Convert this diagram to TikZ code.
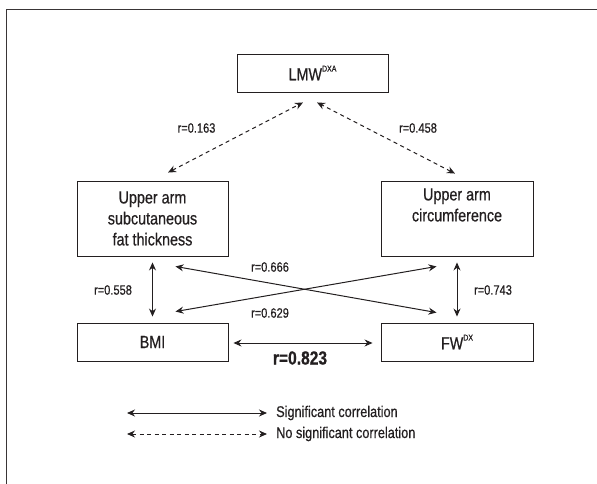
\documentclass[tikz,border=0pt]{standalone}
\usepackage{fontspec}
\setmainfont[FakeStretch=0.82,FakeBold=0.6]{Liberation Sans}
\usetikzlibrary{calc,arrows.meta}
\definecolor{ink}{HTML}{231F20}
\tikzset{
  box/.style={draw=ink, line width=0.9pt, align=center, inner sep=0pt, font=\fontsize{17.5}{21}\selectfont, text=ink},
  lbl/.style={font=\fontsize{13.5}{15}\selectfont, text=ink, inner sep=0pt},
  sig/.style={draw=ink, line width=1pt, {Stealth[length=8pt,width=7pt]}-{Stealth[length=8pt,width=7pt]}},
  nsig/.style={sig, dash pattern=on 4pt off 3.5pt},
  legtext/.style={font=\fontsize{15.5}{17}\selectfont, text=ink, anchor=west, inner sep=0pt}
}
\newcommand{\supx}[1]{\raisebox{0.5em}{\fontsize{8.5}{9}\selectfont #1}}
\begin{document}
\begin{tikzpicture}[x=1pt,y=-1pt]
\useasboundingbox (0,0) rectangle (597,484);
\draw[draw=ink!90, line width=1.4pt] (6.7,484) -- (6.7,9.3) -- (597,9.3);

\node[box, minimum width=151pt, minimum height=38pt] (lmw) at (312.5,73) {LMW\supx{DXA}};
\node[box, minimum width=151pt, minimum height=75pt] (sub) at (152.5,218.5) {Upper arm\\subcutaneous\\fat thickness};
\node[box, minimum width=152pt, minimum height=75pt] (circ) at (457,218.5) {Upper arm\\circumference\\\strut};
\node[box, minimum width=151pt, minimum height=38pt] (bmi) at (152.5,342) {BMI};
\node[box, minimum width=152pt, minimum height=38pt] (fw) at (457,342) {FW\supx{DX}};

\draw[nsig] ($(sub.north)+(15.5,-8)$) -- ($(lmw.south)+(-9.5,10)$);
\draw[nsig] ($(circ.north)+(-2,-7)$) -- ($(lmw.south)+(4.5,10)$);
\draw[sig] ($(sub.south)+(0,6)$) -- ($(bmi.north)+(0,-6)$);
\draw[sig] ($(circ.south)+(0,6)$) -- ($(fw.north)+(0,-6)$);
\draw[sig] ($(bmi.east)+(5,1)$) -- ($(fw.west)+(-8,1)$);
\draw[sig] ($(sub.south east)+(-53,10)$) -- ($(fw.north west)+(56,-10)$);
\draw[sig] ($(bmi.north east)+(-53,-11)$) -- ($(circ.south west)+(56,10)$);

\node[lbl] (l1) at (196.5,128) {r=0.163};
\node[lbl] (l2) at (418,128) {r=0.458};
\node[lbl] (l3) at (270,267) {r=0.666};
\node[lbl] (l4) at (270,313) {r=0.629};
\node[lbl] (l5) at (113,290) {r=0.558};
\node[lbl] (l6) at (493,290) {r=0.743};
\node[lbl, font=\fontsize{19}{20}\bfseries\selectfont] (l7) at (300,358) {r=0.823};

\coordinate (s1) at (127,413);
\coordinate (s2) at (267,413);
\coordinate (n1) at (127,434);
\coordinate (n2) at (267,434);
\draw[sig] (s1) -- (s2);
\draw[nsig] (n1) -- (n2);
\node[legtext] (t1) at (276,413) {Significant correlation};
\node[legtext] (t2) at (276,434) {No significant correlation};
\end{tikzpicture}
\end{document}
